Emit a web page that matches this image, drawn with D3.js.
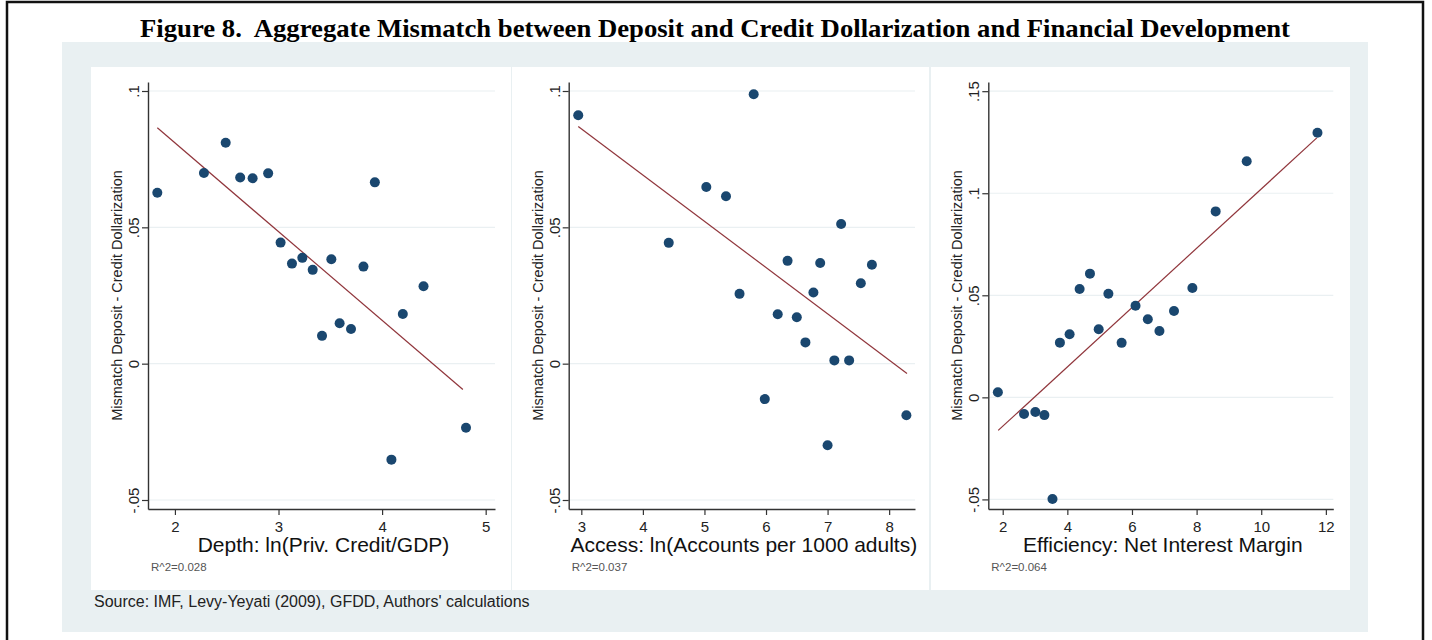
<!DOCTYPE html>
<html>
<head>
<meta charset="utf-8">
<script src="https://cdn.jsdelivr.net/npm/d3@7"></script>
<style>
  body { margin: 0; background: #fff; }
  svg { display: block; }
  .title { white-space: pre; }
</style>
</head>
<body>
<div id="chart"></div>
<script>
//Figure 8: mismatch vs financial development, three scatter panels

var titleText = "Figure 8.  Aggregate Mismatch between Deposit and Credit Dollarization and Financial Development";
var sourceText = "Source: IMF, Levy-Yeyati (2009), GFDD, Authors' calculations";
var yTitle = "Mismatch Deposit - Credit Dollarization";

//depth panel
var depthX = [1.83, 2.28, 2.49, 2.63, 2.75, 2.90, 3.02, 3.13, 3.23, 3.33, 3.51, 3.82, 3.93, 4.40, 4.20, 3.59, 3.70, 3.42, 4.09, 4.81];
var depthY = [0.0627, 0.0699, 0.0810, 0.0683, 0.0680, 0.0698, 0.0444, 0.0367, 0.0388, 0.0344, 0.0383, 0.0356, 0.0665, 0.0284, 0.0182, 0.0148, 0.0127, 0.0102, -0.0352, -0.0235];
var depthFitX = [1.83, 4.78];
var depthFitY = [0.0865, -0.0095];

//access panel
var accessX = [2.95, 5.80, 4.42, 5.03, 5.35, 7.22, 6.35, 6.88, 7.72, 7.54, 6.77, 5.57, 6.19, 6.50, 6.64, 7.11, 7.35, 5.98, 7.00, 8.28];
var accessY = [0.0911, 0.0988, 0.0443, 0.0648, 0.0614, 0.0512, 0.0377, 0.0369, 0.0363, 0.0295, 0.0261, 0.0256, 0.0181, 0.0170, 0.0078, 0.0012, 0.0012, -0.0130, -0.0299, -0.0189];
var accessFitX = [2.95, 8.29];
var accessFitY = [0.0870, -0.0036];

//efficiency panel
var effX = [11.74, 9.55, 8.59, 7.87, 7.30, 6.11, 6.49, 6.85, 5.27, 4.70, 4.38, 4.97, 4.07, 3.77, 5.68, 1.85, 2.66, 3.01, 3.29, 3.54];
var effY = [0.1296, 0.1157, 0.0911, 0.0536, 0.0423, 0.0449, 0.0383, 0.0325, 0.0508, 0.0606, 0.0531, 0.0334, 0.0309, 0.0268, 0.0267, 0.0025, -0.0082, -0.0072, -0.0087, -0.0498];
var effFitX = [1.86, 11.72];
var effFitY = [-0.0162, 0.1271];

var xTitles = ["Depth: ln(Priv. Credit/GDP)", "Access: ln(Accounts per 1000 adults)", "Efficiency: Net Interest Margin"];
var rSquared = ["R^2=0.028", "R^2=0.037", "R^2=0.064"];
var xTicksDepth = [2, 3, 4, 5];
var xTicksAccess = [3, 4, 5, 6, 7, 8];
var xTicksEff = [2, 4, 6, 8, 10, 12];
var yTicksShort = [-0.05, 0, 0.05, 0.1];
var yTicksLong = [-0.05, 0, 0.05, 0.1, 0.15];
var yTickLabels = {"-0.05": "-.05", "0": "0", "0.05": ".05", "0.1": ".1", "0.15": ".15"};

var W = 1432, H = 640;
var dotColor = "#1a476f", fitColor = "#90353b", bgColor = "#e9f0f2";
var sans = "Liberation Sans, Arial, sans-serif";

var svg = d3.select("#chart").append("svg")
	.attr("width", W)
	.attr("height", H);

//page frame
svg.append("rect").attr("x", 0).attr("y", 0).attr("width", W).attr("height", H).attr("fill", "#fff");
svg.append("path")
	.attr("d", "M7," + H + "V2H1423V" + H)
	.attr("fill", "none")
	.attr("stroke", "#111")
	.attr("stroke-width", 2.5);

svg.append("text")
	.attr("class", "title")
	.attr("x", 715).attr("y", 37)
	.attr("text-anchor", "middle")
	.attr("font-family", "Liberation Serif, Times New Roman, serif")
	.attr("font-weight", "bold")
	.attr("font-size", 26)
	.attr("textLength", 1150)
	.attr("lengthAdjust", "spacingAndGlyphs")
	.attr("fill", "#000")
	.text(titleText);

//graph region
svg.append("rect")
	.attr("x", 62).attr("y", 42)
	.attr("width", 1306).attr("height", 590)
	.attr("fill", bgColor);

var panels = [
	{xs: depthX, ys: depthY, fx: depthFitX, fy: depthFitY, xTicks: xTicksDepth, yTicks: yTicksShort,
	 box: [91, 420], xDom: [1.74, 5.09], xRange: [148, 495], yDom: [-0.0533, 0.1033]},
	{xs: accessX, ys: accessY, fx: accessFitX, fy: accessFitY, xTicks: xTicksAccess, yTicks: yTicksShort,
	 box: [512, 417], xDom: [2.795, 8.42], xRange: [568.7, 915], yDom: [-0.0533, 0.1033]},
	{xs: effX, ys: effY, fx: effFitX, fy: effFitY, xTicks: xTicksEff, yTicks: yTicksLong,
	 box: [931, 419], xDom: [1.554, 12.23], xRange: [988.3, 1333.3], yDom: [-0.0547, 0.1545]}
];

var plotTop = 82, plotBottom = 509;

panels.forEach(function(p, i){
	var g = svg.append("g");

	g.append("rect")
		.attr("x", p.box[0]).attr("y", 67)
		.attr("width", p.box[1]).attr("height", 523)
		.attr("fill", "#fff");

	var x = d3.scaleLinear().domain(p.xDom).range(p.xRange);
	var y = d3.scaleLinear().domain(p.yDom).range([plotBottom, plotTop]);

	//grid
	g.selectAll(".grid").data(p.yTicks).enter().append("line")
		.attr("x1", p.xRange[0]).attr("x2", p.xRange[1])
		.attr("y1", function(d){ return y(d); })
		.attr("y2", function(d){ return y(d); })
		.attr("stroke", "#eaf0f2")
		.attr("stroke-width", 1.2);

	//axes
	var xAxis = g.append("g")
		.attr("transform", "translate(0," + plotBottom + ")")
		.call(d3.axisBottom(x).tickValues(p.xTicks).tickSize(6).tickSizeOuter(0).tickPadding(6).tickFormat(d3.format("d")));

	var yAxis = g.append("g")
		.attr("transform", "translate(" + p.xRange[0] + ",0)")
		.call(d3.axisLeft(y).tickValues(p.yTicks).tickSize(6).tickSizeOuter(0)
			.tickFormat(function(d){ return yTickLabels[String(+d.toFixed(2))]; }));

	[xAxis, yAxis].forEach(function(a){
		a.select(".domain").attr("stroke", "#333").attr("stroke-width", 1.4);
		a.selectAll(".tick line").attr("stroke", "#333").attr("stroke-width", 1.2);
		a.selectAll("text")
			.attr("font-family", sans)
			.attr("font-size", 15)
			.attr("fill", "#222");
	});

	yAxis.selectAll(".tick text")
		.attr("x", null).attr("dy", null)
		.attr("text-anchor", "middle")
		.attr("transform", "translate(-9,0) rotate(-90)");

	//fit line
	g.append("line")
		.attr("x1", x(p.fx[0])).attr("y1", y(p.fy[0]))
		.attr("x2", x(p.fx[1])).attr("y2", y(p.fy[1]))
		.attr("stroke", fitColor)
		.attr("stroke-width", 1.2);

	//points
	g.selectAll(".dot").data(p.xs).enter().append("circle")
		.attr("cx", function(d){ return x(d); })
		.attr("cy", function(d, j){ return y(p.ys[j]); })
		.attr("r", 5)
		.attr("fill", dotColor);

	//labels
	var cx = (p.xRange[0] + p.xRange[1]) / 2 + 2;
	g.append("text")
		.attr("x", cx).attr("y", 552)
		.attr("text-anchor", "middle")
		.attr("font-family", sans)
		.attr("font-size", 21)
		.attr("fill", "#111")
		.text(xTitles[i]);

	g.append("text")
		.attr("transform", "translate(" + (p.xRange[0] - 26) + "," + ((plotTop + plotBottom) / 2) + ") rotate(-90)")
		.attr("text-anchor", "middle")
		.attr("font-family", sans)
		.attr("font-size", 14.5)
		.attr("fill", "#222")
		.text(yTitle);

	g.append("text")
		.attr("x", p.xRange[0] + 3).attr("y", 571)
		.attr("font-family", sans)
		.attr("font-size", 11.5)
		.attr("fill", "#555")
		.text(rSquared[i]);
});

svg.append("text")
	.attr("x", 94).attr("y", 607)
	.attr("font-family", sans)
	.attr("font-size", 16)
	.attr("fill", "#222")
	.text(sourceText);
</script>
</body>
</html>
